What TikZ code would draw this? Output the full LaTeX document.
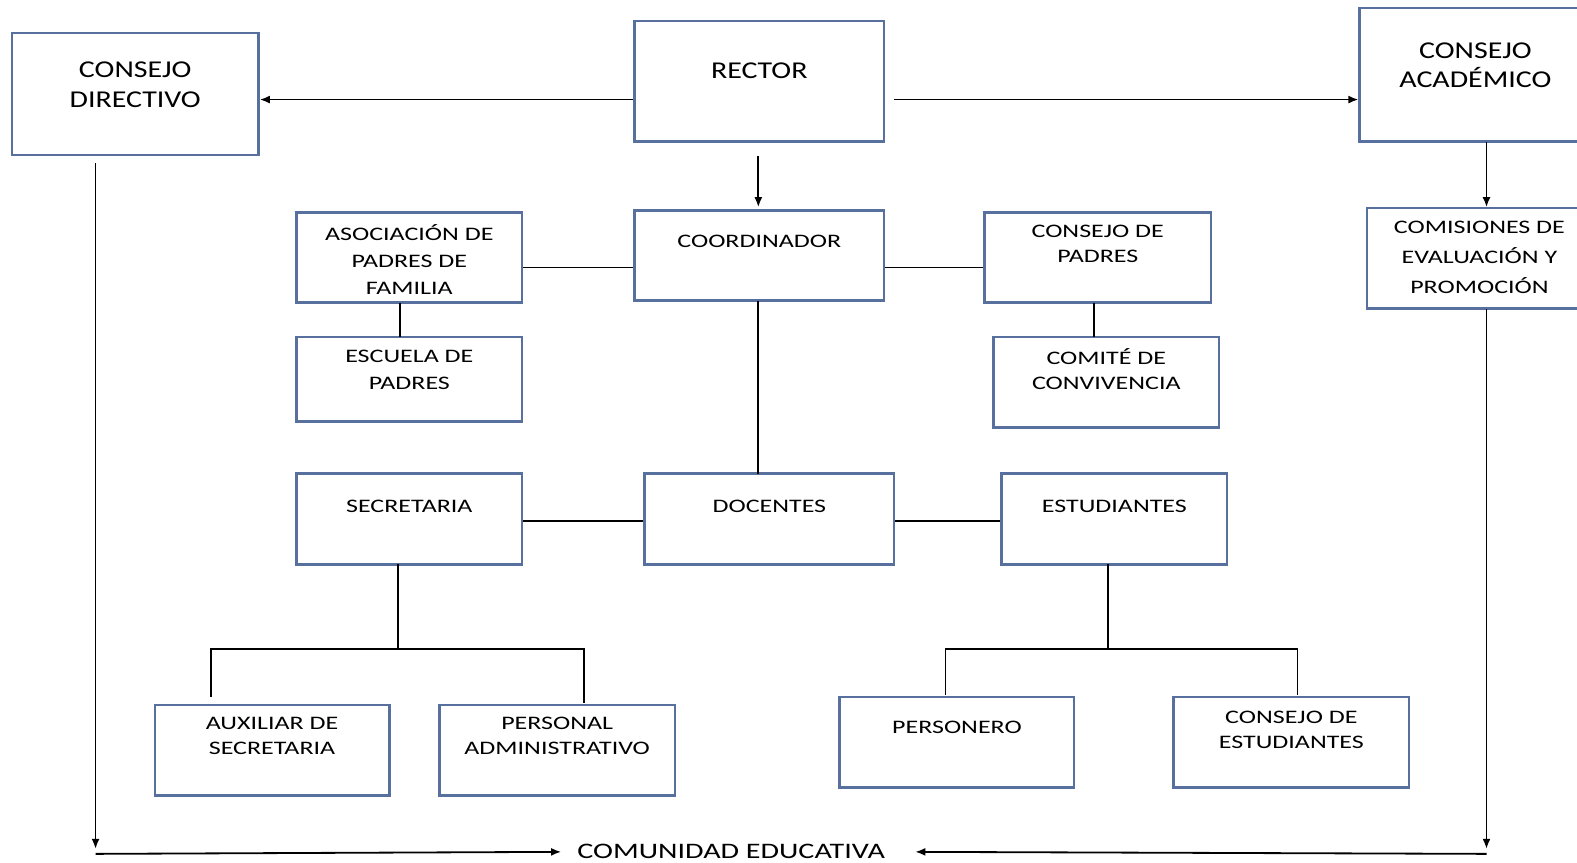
\documentclass[tikz,border=0pt]{standalone}
\usepackage{fontspec}
\setmainfont{Carlito}
\newfontfamily\grande{Carlito}[FakeStretch=1.24]
\newfontfamily\chica{Carlito}[FakeStretch=1.36]
\usetikzlibrary{positioning,arrows.meta}
\definecolor{borde}{RGB}{88,112,158}
\tikzset{
  caja/.style={draw=borde, line width=2.6pt, fill=white, inner sep=0pt},
  txt/.style={align=center, inner sep=0pt, font=\chica\fontsize{19}{27}\selectfont},
  txtg/.style={align=center, inner sep=0pt, font=\grande\fontsize{24}{29}\selectfont},
  linea/.style={line width=1.8pt},
  flecha/.style={line width=1.8pt, -{Latex[length=10pt,width=8pt]}}
}
\begin{document}
\begin{tikzpicture}[x=1pt,y=-1pt]
  \useasboundingbox (0,0) rectangle (1568,858);

  % Cajas de arriba
  \node[caja, minimum width=245, minimum height=121] (cdir) at (134.5,93.5) {};
  \node[caja, minimum width=248, minimum height=120] (rector) at (755,81) {};
  \node[caja, minimum width=230, minimum height=133] (cacad) at (1467,74.5) {};
  \node[txtg, below=30pt of cdir.north] (cdirT) {CONSEJO\\DIRECTIVO};
  \node[txtg, below=43pt of rector.north] (rectorT) {RECTOR};
  \node[txtg, below=36pt of cacad.north] (cacadT) {CONSEJO\\ACADÉMICO};

  % Segunda fila
  \node[caja, minimum width=224, minimum height=90] (asoc) at (407,256) {};
  \node[caja, minimum width=248, minimum height=90] (coord) at (755,254) {};
  \node[caja, minimum width=225, minimum height=90] (cpad) at (1091.5,256) {};
  \node[caja, minimum width=224, minimum height=100] (comis) at (1471,257) {};
  \node[caja, minimum width=224, minimum height=84] (escuela) at (407,377) {};
  \node[caja, minimum width=224, minimum height=90] (comite) at (1100,380) {};
  \node[txt, below=13pt of asoc.north] (asocT) {ASOCIACIÓN DE\\PADRES DE\\FAMILIA};
  \node[txt, below=26pt of coord.north] (coordT) {COORDINADOR};
  \node[txt, below=14pt of cpad.north, font=\chica\fontsize{19}{25}\selectfont] (cpadT) {CONSEJO DE\\PADRES};
  \node[txt, below=14pt of comis.north, font=\chica\fontsize{19}{30}\selectfont] (comisT) {COMISIONES DE\\EVALUACIÓN Y\\PROMOCIÓN};
  \node[txt, below=14pt of escuela.north] (escuelaT) {ESCUELA DE\\PADRES};
  \node[txt, below=13pt of comite.north, font=\chica\fontsize{19}{25}\selectfont] (comiteT) {COMITÉ DE\\CONVIVENCIA};

  % Tercera fila
  \node[caja, minimum width=224, minimum height=90] (secre) at (407,516) {};
  \node[caja, minimum width=248, minimum height=90] (docen) at (765,516) {};
  \node[caja, minimum width=224, minimum height=90] (estud) at (1108,516) {};
  \node[txt, below=27pt of secre.north] (secreT) {SECRETARIA};
  \node[txt, below=27pt of docen.north] (docenT) {DOCENTES};
  \node[txt, below=27pt of estud.north] (estudT) {ESTUDIANTES};

  % Cuarta fila
  \node[caja, minimum width=233, minimum height=90] (auxil) at (270.5,746) {};
  \node[caja, minimum width=234, minimum height=90] (perso) at (554,746) {};
  \node[caja, minimum width=233, minimum height=90] (perne) at (951.5,738) {};
  \node[caja, minimum width=234, minimum height=90] (cest) at (1284,738) {};
  \node[txt, below=13pt of auxil.north, font=\chica\fontsize{19}{25}\selectfont] (auxilT) {AUXILIAR DE\\SECRETARIA};
  \node[txt, below=13pt of perso.north, font=\chica\fontsize{19}{25}\selectfont] (persoT) {PERSONAL\\ADMINISTRATIVO};
  \node[txt, below=25pt of perne.north] (perneT) {PERSONERO};
  \node[txt, below=15pt of cest.north, font=\chica\fontsize{19}{25}\selectfont] (cestT) {CONSEJO DE\\ESTUDIANTES};

  % Texto de abajo
  \node[txt, font=\chica\fontsize{22}{26}\selectfont] (comun) at (727,847) {COMUNIDAD EDUCATIVA};

  % Flechas del rector
  \draw[flecha] (rector.west |- 0,99) -- (cdir.east |- 0,99);
  \draw[flecha] (889,99) -- (cacad.west |- 0,99);
  \draw[flecha] (754,155) -- (754,206);
  \draw[flecha] (1478,141) -- (1478,206);

  % Lineas horizontales
  \draw[linea] (asoc.east |- 0,266) -- (coord.west |- 0,266);
  \draw[linea] (coord.east |- 0,266) -- (cpad.west |- 0,266);
  \draw[linea] (secre.east |- 0,518) -- (docen.west |- 0,518);
  \draw[linea] (docen.east |- 0,518) -- (estud.west |- 0,518);

  % Lineas verticales
  \draw[linea] (398,301) -- (398,335);
  \draw[linea] (1088,301) -- (1088,335);
  \draw[linea] (754,299) -- (754,471);

  % Ramas de secretaria y estudiantes
  \draw[linea] (396,561) -- (396,645);
  \draw[linea] (210,693) -- (210,645) -- (581,645) -- (581,699);
  \draw[linea] (1102,561) -- (1102,645);
  \draw[linea] (940,691) -- (940,645) -- (1290,645) -- (1290,691);

  % Hacia la comunidad educativa
  \draw[flecha] (95,162) -- (95,844);
  \draw[flecha] (95,849) -- ([xshift=-16pt]comun.west);
  \draw[flecha] (1478,307) -- (1478,844);
  \draw[flecha] (1478,849) -- ([xshift=30pt]comun.east);
\end{tikzpicture}
\end{document}
